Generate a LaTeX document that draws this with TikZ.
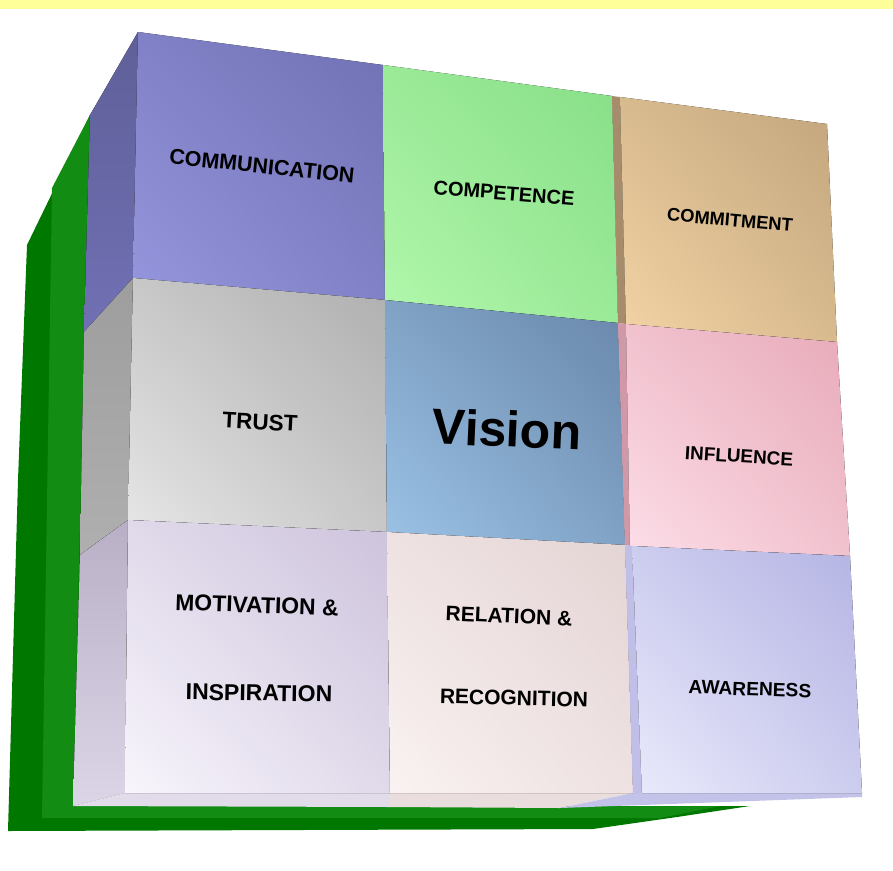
\documentclass[tikz,border=0pt]{standalone}
\usepackage{fontspec}
\setmainfont{Liberation Sans}
\usetikzlibrary{shadings}

\definecolor{bandyellow}{RGB}{255,255,153}
\definecolor{greenA}{RGB}{0,120,0}
\definecolor{greenB}{RGB}{18,140,18}
\definecolor{commD}{RGB}{112,112,180}
\definecolor{commL}{RGB}{150,150,222}
\definecolor{comptD}{RGB}{135,222,135}
\definecolor{comptL}{RGB}{178,248,172}
\definecolor{commitD}{RGB}{195,165,125}
\definecolor{commitL}{RGB}{242,212,165}
\definecolor{trustD}{RGB}{175,175,175}
\definecolor{trustL}{RGB}{230,230,230}
\definecolor{visionD}{RGB}{105,135,170}
\definecolor{visionL}{RGB}{155,195,230}
\definecolor{inflD}{RGB}{232,170,185}
\definecolor{inflL}{RGB}{252,222,232}
\definecolor{motivD}{RGB}{205,195,220}
\definecolor{motivL}{RGB}{248,245,252}
\definecolor{relD}{RGB}{228,212,212}
\definecolor{relL}{RGB}{250,242,242}
\definecolor{awareD}{RGB}{180,180,228}
\definecolor{awareL}{RGB}{234,234,252}

\begin{document}
\begin{tikzpicture}[x=1pt, y=-1pt,
  face/.style 2 args={shade, upper right=#1, lower left=#2, upper left=#1!55!#2, lower right=#1!55!#2},
  side/.style 2 args={shade, top color=#1, bottom color=#2},
  lbl/.style={inner sep=0pt, font=\bfseries\fontsize{#1}{#1}\selectfont}]
\useasboundingbox (0,0) rectangle (893,870);
\fill[bandyellow] (0,0) rectangle (893,9);

\fill[greenA] (27,245) -- (90,115) -- (84,332) -- (80,555) -- (73,806) -- (750,806) -- (677,817) -- (593,829) -- (8,831) -- (18,480) -- cycle;
\fill[greenB] (52,188) -- (90,115) -- (73,806) -- (720,806) -- (660,818) -- (42,818) -- cycle;

\fill[side={commD!85!black}{commD}] (138,32) -- (90,115) -- (84,332) -- (133,278) -- cycle;
\fill[side={trustD!90!black}{trustD}] (133,278) -- (84,332) -- (80,555) -- (128,520) -- cycle;
\fill[side={motivD!90!black}{motivD!70!white}] (128,520) -- (80,555) -- (73,806) -- (125,793) -- cycle;
\fill[motivD!60!white] (73,806) -- (125,793) -- (390,793) -- (390,807) -- cycle;
\fill[relD!80!white] (390,793) -- (633,793) -- (560,808) -- (390,807) -- cycle;
\fill[awareD!80!white] (633,793) -- (862,793) -- (862,797) -- (560,808) -- cycle;

\fill[face={commD}{commL}] (138,32) -- (383,65) -- (385,300) -- (133,278) -- cycle;
\fill[face={comptD}{comptL}] (383,65) -- (612,96) -- (618,323) -- (385,300) -- cycle;
\fill[commitD!85!black] (612,96) -- (620,97) -- (626,324) -- (618,323) -- cycle;
\fill[face={commitD}{commitL}] (620,97) -- (827,124) -- (837,342) -- (626,324) -- cycle;
\fill[face={trustD}{trustL}] (133,278) -- (385,300) -- (387,532) -- (128,520) -- cycle;
\fill[face={visionD}{visionL}] (385,300) -- (618,323) -- (625,545) -- (387,532) -- cycle;
\fill[inflD!90!black] (618,323) -- (626,324) -- (630,546) -- (625,545) -- cycle;
\fill[face={inflD}{inflL}] (626,324) -- (837,342) -- (850,556) -- (630,546) -- cycle;
\fill[face={motivD}{motivL}] (128,520) -- (387,532) -- (390,793) -- (125,793) -- cycle;
\fill[face={relD}{relL}] (387,532) -- (625,545) -- (633,793) -- (390,793) -- cycle;
\fill[awareD!85!white] (625,545) -- (632,546) -- (642,793) -- (633,793) -- cycle;
\fill[face={awareD}{awareL}] (632,546) -- (850,556) -- (862,793) -- (642,793) -- cycle;

\node[lbl=21.5, rotate=-6] (comm) at (262,166) {COMMUNICATION};
\node[lbl=20, rotate=-4.5] (compt) at (504,193) {COMPETENCE};
\node[lbl=18.3, rotate=-5] (commit) at (730,220) {COMMITMENT};
\node[lbl=22.5, rotate=-3] (trust) at (260,422) {TRUST};
\node[lbl=50, rotate=-2.5] (vision) at (507,429) {Vision};
\node[lbl=18.9, rotate=-3.5] (infl) at (739,456) {INFLUENCE};
\node[lbl=22.9, rotate=-2] (motiv) at (257,605) {MOTIVATION \&};
\node[lbl=23, rotate=-1] (inspir) at (259,693) {INSPIRATION};
\node[lbl=21, rotate=-2.5] (rel) at (509,616) {RELATION \&};
\node[lbl=21, rotate=-1.5] (recog) at (514,698) {RECOGNITION};
\node[lbl=19.2, rotate=-2] (aware) at (750,689) {AWARENESS};
\end{tikzpicture}
\end{document}
